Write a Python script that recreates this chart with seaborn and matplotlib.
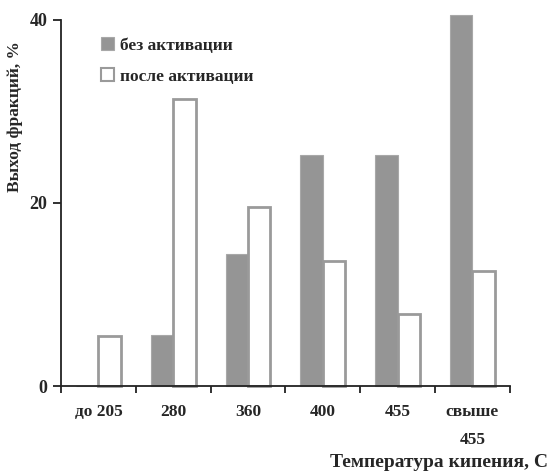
import matplotlib
matplotlib.use("Agg")
import matplotlib.pyplot as plt
from matplotlib.patches import Patch
import seaborn as sns
import pandas as pd

categories = ["до 205", "280", "360", "400", "455", "свыше\n455"]
series_names = ["без активации", "после активации"]
without_activation = [0.0, 5.6, 14.4, 25.2, 25.2, 40.5]
after_activation = [5.5, 31.3, 19.6, 13.7, 7.9, 12.6]
y_ticks = [0, 20, 40]

df = pd.DataFrame({
    "cat": categories * 2,
    "series": [series_names[0]] * len(categories) + [series_names[1]] * len(categories),
    "value": without_activation + after_activation,
})

sns.set_style("white")
plt.rcParams["font.family"] = ["Liberation Serif", "DejaVu Serif"]
plt.rcParams["font.weight"] = "bold"

GREY = "#959595"
EDGE = "#9a9a9a"
FS = 12.5

fig = plt.figure(figsize=(5.5, 4.72), dpi=100)
ax = fig.add_axes([0.111, 0.182, 0.816, 0.776])

sns.barplot(data=df, x="cat", y="value", hue="series", order=categories,
            hue_order=series_names, palette=[GREY, "white"], width=0.6, gap=0,
            legend=False, ax=ax)

for i, cont in enumerate(ax.containers):
    for bar in cont:
        bar.set_clip_on(False)
        if i == 0:
            bar.set_facecolor(GREY)
            bar.set_edgecolor("#a8a8a8")
            bar.set_linewidth(0.8)
        else:
            bar.set_facecolor("white")
            bar.set_edgecolor(EDGE)
            bar.set_linewidth(2.0)

ax.set_ylim(0, 40)
ax.set_xlim(-0.5, len(categories) - 0.5)
ax.set_yticks(y_ticks)
ax.set_yticklabels([str(t) for t in y_ticks], fontsize=13, fontweight="bold")

# category boundaries carry the tick marks, labels sit at category centres
ax.set_xticks([i - 0.5 for i in range(len(categories) + 1)])
ax.set_xticklabels([])
ax.set_xticks(range(len(categories)), minor=True)
ax.set_xticklabels(categories, minor=True, fontsize=FS, fontweight="bold",
                   linespacing=2.0, va="top")
ax.tick_params(axis="x", which="minor", length=0, pad=13)
ax.tick_params(axis="x", which="major", direction="out", length=5, width=1.3,
               color="#222222", bottom=True)
ax.tick_params(axis="y", direction="out", length=6, width=1.3, color="#222222",
               left=True, pad=4)

for side in ("top", "right"):
    ax.spines[side].set_visible(False)
for side in ("left", "bottom"):
    ax.spines[side].set_color("#222222")
    ax.spines[side].set_linewidth(1.3)

ax.set_xlabel("")
ax.set_ylabel("Выход фракций, %", fontsize=FS, fontweight="bold")
ax.yaxis.set_label_coords(-0.085, 0.735)
fig.text(0.997, 0.003, "Температура кипения, С", ha="right", va="bottom",
         fontsize=14, fontweight="bold")

handles = [Patch(facecolor=GREY, edgecolor="#a8a8a8", linewidth=0.8),
           Patch(facecolor="white", edgecolor=EDGE, linewidth=1.5)]
ax.legend(handles, series_names, loc="upper left", bbox_to_anchor=(0.055, 0.995),
          frameon=False, handlelength=0.75, handleheight=0.75,
          handletextpad=0.35, labelspacing=0.85,
          prop={"weight": "bold", "size": FS})

fig.savefig("out.png", dpi=100, facecolor="white")
